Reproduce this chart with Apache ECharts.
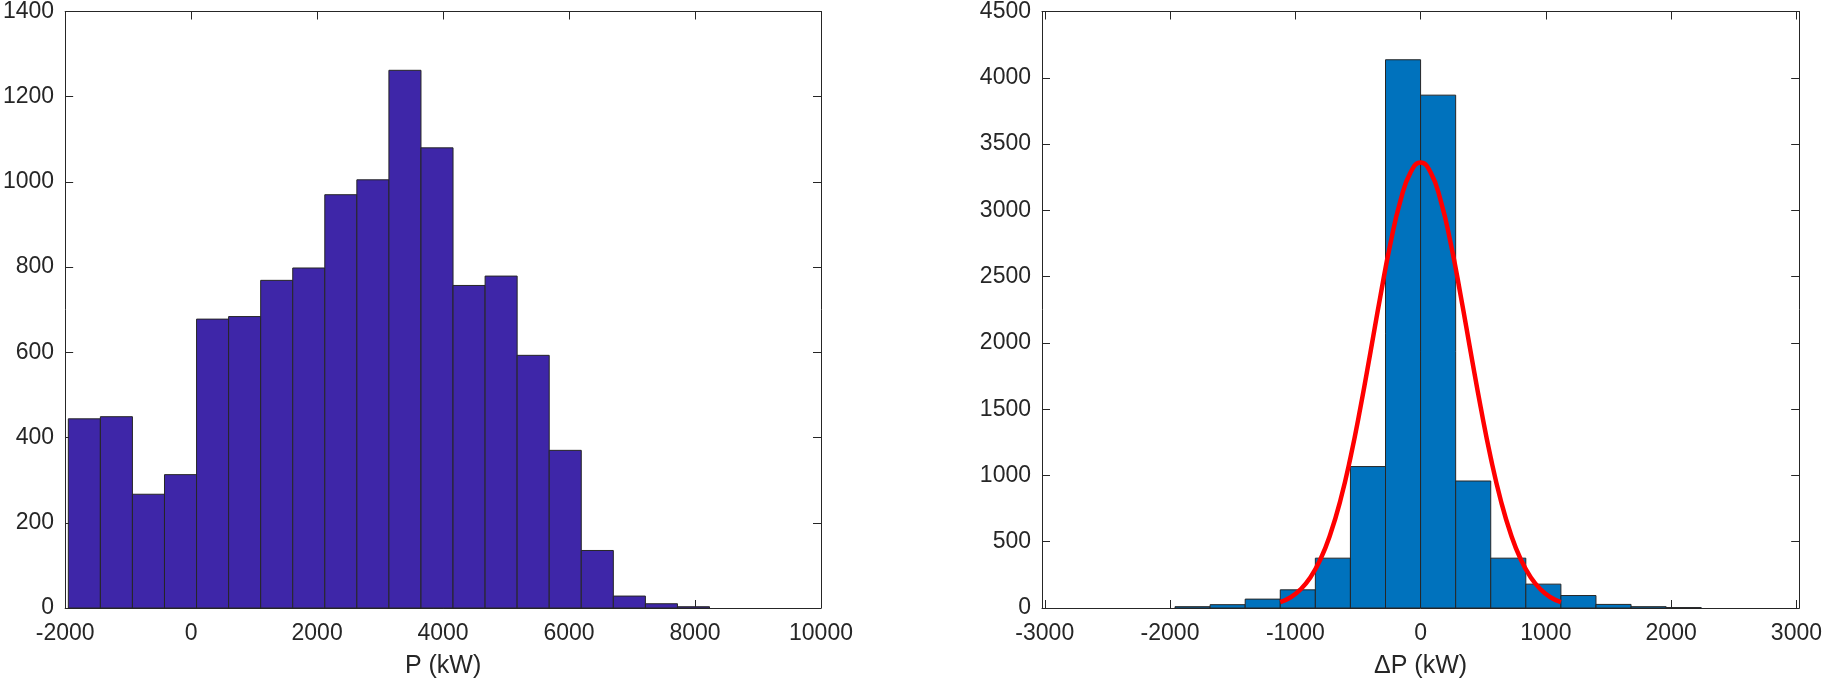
<!DOCTYPE html>
<html><head><meta charset="utf-8">
<script src="https://cdn.jsdelivr.net/npm/echarts@6/dist/echarts.min.js"></script>
<style>html,body{margin:0;padding:0;background:#fff;}#c{width:1825px;height:684px;}</style>
</head><body><div id="c"></div>
<script>
// Left histogram: P (kW)
const pEdges = [-1950, -1441, -932, -423, 86, 595, 1104, 1613, 2122, 2631, 3140, 3649, 4158, 4667, 5176, 5685, 6194, 6703, 7212, 7721, 8230];
const pCounts = [444, 449, 267, 313, 678, 684, 769, 798, 970, 1005, 1262, 1080, 757, 779, 593, 370, 135, 28, 10, 3];
// Right histogram: ΔP (kW)
const dpEdges = [-1960, -1680, -1400, -1120, -840, -560, -280, 0, 280, 560, 840, 1120, 1400, 1680, 1960, 2240];
const dpCounts = [10, 25, 67, 137, 376, 1067, 4136, 3869, 958, 376, 180, 94, 27, 10, 3];
// Red fitted curve
const fitX = [-1120, -1040, -960, -880, -800, -720, -640, -560, -480, -400, -320, -240, -160, -80, 0, 80, 160, 240, 320, 400, 480, 560, 640, 720, 800, 880, 960, 1040, 1120];
const fitY = [44, 79, 138, 230, 366, 558, 813, 1134, 1513, 1931, 2357, 2753, 3075, 3286, 3360, 3286, 3075, 2753, 2357, 1931, 1513, 1134, 813, 558, 366, 230, 138, 79, 44];
// Tick labels
const pXTicks = [-2000, 0, 2000, 4000, 6000, 8000, 10000];
const pYTicks = [0, 200, 400, 600, 800, 1000, 1200, 1400];
const dpXTicks = [-3000, -2000, -1000, 0, 1000, 2000, 3000];
const dpYTicks = [0, 500, 1000, 1500, 2000, 2500, 3000, 3500, 4000, 4500];

const FONT = "'Liberation Sans', Arial, Helvetica, sans-serif";
const AX = '#262626';

function axis(opts) {
  const showLabel = opts.label !== false;
  return Object.assign({
    type: 'value',
    splitLine: { show: false },
    axisLine: { show: true, onZero: false, lineStyle: { color: AX, width: 1 } },
    axisTick: { show: true, inside: true, length: 8, customValues: opts.ticks, lineStyle: { color: AX, width: 1 } },
    axisLabel: { show: showLabel, customValues: opts.ticks, color: AX, fontSize: 23, fontFamily: FONT, margin: opts.margin || 12,
                 formatter: function (v) { return String(v); } },
    nameTextStyle: { color: AX, fontSize: 25, fontFamily: FONT }
  }, opts.extra);
}

function histData(edges, counts) {
  const d = [];
  for (let i = 0; i < counts.length; i++) d.push([edges[i], edges[i + 1], counts[i]]);
  return d;
}

function histRender(fill) {
  return function (params, api) {
    const x0 = api.value(0), x1 = api.value(1), y = api.value(2);
    const p0 = api.coord([x0, y]);
    const p1 = api.coord([x1, 0]);
    return {
      type: 'rect',
      shape: { x: p0[0], y: p0[1], width: p1[0] - p0[0], height: p1[1] - p0[1] },
      style: { fill: fill, stroke: AX, lineWidth: 1 }
    };
  };
}

const chart = echarts.init(document.getElementById('c'), null, { renderer: 'canvas' });
const fitData = fitX.map((x, i) => [x, fitY[i]]);

chart.setOption({
  backgroundColor: '#ffffff',
  animation: false,
  grid: [
    { left: 59, top: 8, width: 762, height: 601, containLabel: false },
    { left: 1042, top: 8, width: 762, height: 601, containLabel: false }
  ],
  xAxis: [
    axis({ ticks: pXTicks, margin: 14, extra: { gridIndex: 0, position: 'bottom', min: -2000, max: 10000, name: 'P (kW)', nameLocation: 'middle', nameGap: 46 } }),
    axis({ ticks: pXTicks, label: false, extra: { gridIndex: 0, position: 'top', min: -2000, max: 10000 } }),
    axis({ ticks: dpXTicks, margin: 14, extra: { gridIndex: 1, position: 'bottom', min: -3022, max: 3022, name: 'ΔP (kW)', nameLocation: 'middle', nameGap: 46 } }),
    axis({ ticks: dpXTicks, label: false, extra: { gridIndex: 1, position: 'top', min: -3022, max: 3022 } })
  ],
  yAxis: [
    axis({ ticks: pYTicks, margin: 11, extra: { gridIndex: 0, position: 'left', min: 0, max: 1400 } }),
    axis({ ticks: pYTicks, label: false, extra: { gridIndex: 0, position: 'right', min: 0, max: 1400 } }),
    axis({ ticks: dpYTicks, margin: 11, extra: { gridIndex: 1, position: 'left', min: 0, max: 4500 } }),
    axis({ ticks: dpYTicks, label: false, extra: { gridIndex: 1, position: 'right', min: 0, max: 4500 } })
  ],
  series: [
    {
      type: 'custom', xAxisIndex: 0, yAxisIndex: 0,
      renderItem: histRender('#3E26A8'),
      encode: { x: [0, 1], y: 2 },
      data: histData(pEdges, pCounts), z: 2
    },
    {
      type: 'custom', xAxisIndex: 2, yAxisIndex: 2,
      renderItem: histRender('#0072BD'),
      encode: { x: [0, 1], y: 2 },
      data: histData(dpEdges, dpCounts), z: 2
    },
    {
      type: 'line', xAxisIndex: 2, yAxisIndex: 2,
      data: fitData, smooth: true, showSymbol: false, symbol: 'none',
      lineStyle: { color: '#FF0000', width: 4.5 }, z: 5
    }
  ]
});
</script>
</body></html>
